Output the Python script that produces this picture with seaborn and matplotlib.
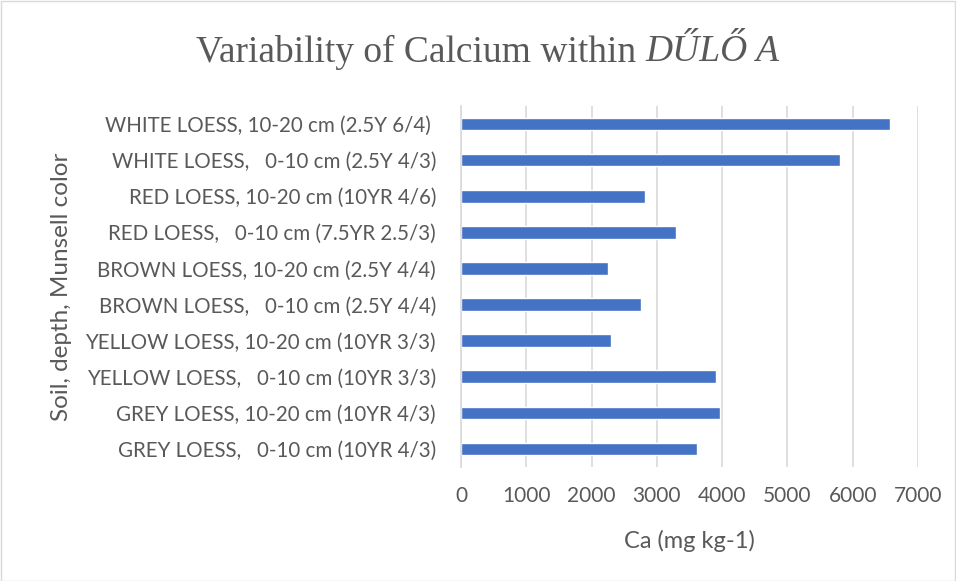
import matplotlib
matplotlib.use("Agg")
import matplotlib.pyplot as plt
import seaborn as sns
import pandas as pd
from matplotlib.patches import Rectangle

labels = [
    "WHITE LOESS, 10-20 cm (2.5Y 6/4) ",
    "WHITE LOESS,   0-10 cm (2.5Y 4/3)",
    "RED LOESS, 10-20 cm (10YR 4/6)",
    "RED LOESS,   0-10 cm (7.5YR 2.5/3)",
    "BROWN LOESS, 10-20 cm (2.5Y 4/4)",
    "BROWN LOESS,   0-10 cm (2.5Y 4/4)",
    "YELLOW LOESS, 10-20 cm (10YR 3/3)",
    "YELLOW LOESS,   0-10 cm (10YR 3/3)",
    "GREY LOESS, 10-20 cm (10YR 4/3)",
    "GREY LOESS,   0-10 cm (10YR 4/3)",
]
ca_values = [6570, 5810, 2820, 3300, 2250, 2760, 2300, 3910, 3970, 3620]
x_ticks = [0, 1000, 2000, 3000, 4000, 5000, 6000, 7000]

title_main = "Variability of Calcium within "
title_italic = "DŰLŐ A"
x_label = "Ca (mg kg-1)"
y_label = "Soil, depth, Munsell color"

df = pd.DataFrame({"label": labels, "ca": ca_values})

sns.set_theme(style="white")
plt.rcParams['font.family'] = ['Lato', 'DejaVu Sans']

W, H = 956, 581
fig = plt.figure(figsize=(W / 100, H / 100), dpi=100)
ax = fig.add_axes([461 / W, 1 - 467 / H, (918 - 461) / W, (467 - 106) / H])

sns.barplot(data=df, x="ca", y="label", color="#4472C4", width=0.35,
            saturation=1, ax=ax, orient="h")
ax.set_xlim(0, 7000)
ax.set_ylim(len(labels) - 0.5, -0.5)
ax.set_xticks(x_ticks)
ax.set_xticklabels([str(t) for t in x_ticks])
ax.grid(axis="x", color="#D9D9D9", linewidth=1.2)
ax.set_axisbelow(True)
for s in ["top", "right", "bottom"]:
    ax.spines[s].set_visible(False)
ax.spines["left"].set_color("#D9D9D9")
ax.spines["left"].set_linewidth(1.2)
grey = "#595959"
ax.tick_params(axis="y", labelsize=14.8, colors=grey, length=0, pad=18)
ax.tick_params(axis="x", labelsize=15, colors=grey, length=0, pad=14)
ax.set_xlabel("")
ax.set_ylabel("")

fig.text(689 / W, 1 - 541 / H, x_label, ha="center", va="center",
         fontsize=17, color=grey)
fig.text(62 / W, 1 - 287 / H, y_label, ha="center", va="center",
         rotation=90, fontsize=17.5, color=grey)

# title composed of a roman part and an italic part
fig.canvas.draw()
r = fig.canvas.get_renderer()
tsize = 27
t1 = fig.text(0, 1 - 52 / H, title_main, ha="left", va="center",
              fontsize=tsize, color=grey, family="Liberation Serif")
t2 = fig.text(0, 1 - 52 / H, title_italic, ha="left", va="center",
              fontsize=tsize, color=grey, family="Liberation Serif", style="italic")
w1 = t1.get_window_extent(r).width
w2 = t2.get_window_extent(r).width
cx = 488
x0 = cx - (w1 + w2) / 2
t1.set_x(x0 / W)
t2.set_x((x0 + w1) / W)

fig.patches.append(Rectangle((0.5 / W, 0.5 / H), 1 - 1.5 / W, 1 - 1.5 / H,
                             transform=fig.transFigure, fill=False,
                             edgecolor="#D9D9D9", linewidth=1))

fig.savefig("out.png", dpi=100, facecolor="white")
